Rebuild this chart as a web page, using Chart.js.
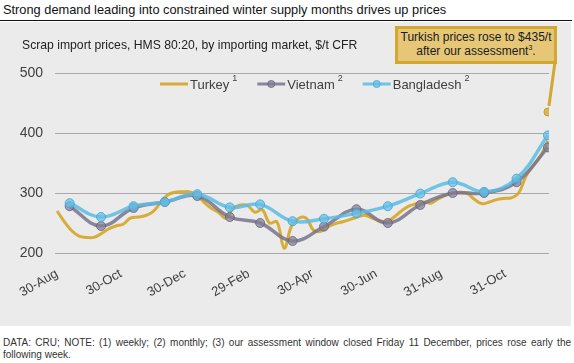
<!DOCTYPE html>
<html>
<head>
<meta charset="utf-8">
<script src="https://cdn.jsdelivr.net/npm/chart.js@4.4.0/dist/chart.umd.min.js"></script>
<style>
  body { margin: 0; width: 574px; height: 363px; background: #fff; font-family: "Liberation Sans", Arial, sans-serif; position: relative; overflow: hidden; }
  #title { position: absolute; left: 3px; top: 2px; font-size: 12.8px; color: #111; white-space: nowrap; }
  #rule { position: absolute; left: 0; top: 20px; width: 572px; height: 0; border-top: 1.5px solid #111; }
  #panel { position: absolute; left: 0; top: 22px; width: 571px; height: 304px; background: #ebebeb; }
  #subtitle { position: absolute; left: 22px; top: 16px; font-size: 12.2px; color: #222; white-space: nowrap; }
  #callout { position: absolute; left: 395px; top: 4px; width: 156px; height: 31px; background: #e5c777; border: 3px solid #d2a833; font-size: 12px; color: #1a1a1a; text-align: center; line-height: 14px; padding-top: 1px; }
  #callout sup { font-size: 7px; vertical-align: 5px; line-height: 0; }
  #note { position: absolute; left: 3px; top: 337px; width: 568px; font-size: 10px; line-height: 12px; color: #333; text-align: justify; }
</style>
</head>
<body>
<div id="title">Strong demand leading into constrained winter supply months drives up prices</div>
<div id="rule"></div>
<div id="panel">
  <canvas id="myChart"></canvas>
  <div id="subtitle">Scrap import prices, HMS 80:20, by importing market, $/t CFR</div>
  <div id="callout">Turkish prices rose to $435/t<br>after our assessment<sup>3</sup>.</div>
</div>
<div id="note">DATA: CRU; NOTE: (1) weekly; (2) monthly; (3) our assessment window closed Friday 11 December, prices rose early the following week.</div>
<script>
const startDate = "2019-08-30";

// weekly Turkey prices, Fridays from 30-Aug-2019 to 11-Dec-2020
const turkeyWeekly = [
  270, 252, 237, 228, 226, 226, 232, 240, 245, 248,
  258, 260, 262, 268, 282, 296, 301, 302, 302, 297,
  285, 275, 268, 258, 274, 280, 279, 268, 272, 250,
  252, 208, 245, 258, 258, 238, 236, 244, 249, 252,
  256, 260, 263, 258, 254, 252, 260, 270, 278, 282,
  285, 283, 290, 296, 300, 300, 299, 289, 282, 285,
  289, 291, 292, 300, 328, 346, 362, 387
];
const turkeyAfter = 435;

const monthlyDates = [
  "2019-09-11", "2019-10-11", "2019-11-11", "2019-12-11", "2020-01-11", "2020-02-11",
  "2020-03-11", "2020-04-11", "2020-05-11", "2020-06-11", "2020-07-11", "2020-08-11",
  "2020-09-11", "2020-10-11", "2020-11-11", "2020-12-11"
];
const vietnam = [278, 245, 275, 285, 295, 260, 250, 220, 244, 273, 250, 280, 300, 300, 318, 376];
const bangladesh = [283, 260, 278, 285, 298, 276, 281, 253, 257, 266, 278, 299, 318, 302, 324, 396];

const tickDates = ["2019-08-30", "2019-10-30", "2019-12-30", "2020-02-29", "2020-04-30", "2020-06-30", "2020-08-31", "2020-10-31"];
const tickLabels = ["30-Aug", "30-Oct", "30-Dec", "29-Feb", "30-Apr", "30-Jun", "31-Aug", "31-Oct"];

const legendNames = ["Turkey", "Vietnam", "Bangladesh"];
const legendSups = ["1", "2", "2"];

function dayOf(d) {
  return (Date.parse(d) - Date.parse(startDate)) / 86400000;
}

const turkeyPts = turkeyWeekly.map((v, i) => ({ x: i * 7, y: v }));
const lastDay = (turkeyWeekly.length - 1) * 7;
const vietnamPts = vietnam.map((v, i) => ({ x: dayOf(monthlyDates[i]), y: v }));
const bangladeshPts = bangladesh.map((v, i) => ({ x: dayOf(monthlyDates[i]), y: v }));
const tickDays = tickDates.map(dayOf);

const gold = "rgba(214,166,40,0.92)";
const purple = "rgba(120,115,140,0.85)";
const blue = "rgba(92,188,228,0.85)";

const legendPlugin = {
  id: "customLegend",
  afterDraw(chart) {
    const c = chart.ctx;
    let x = 160;
    const y = 62;
    c.save();
    [0, 1, 2].forEach((k) => {
      const ds = chart.data.datasets[k];
      c.strokeStyle = ds.borderColor;
      c.lineWidth = 3;
      c.beginPath();
      c.moveTo(x, y);
      c.lineTo(x + 28, y);
      c.stroke();
      if (ds.pointRadius > 0) {
        c.beginPath();
        c.arc(x + 14, y, 3.5, 0, Math.PI * 2);
        c.fillStyle = ds.pointBackgroundColor;
        c.fill();
        c.lineWidth = 1;
        c.strokeStyle = ds.pointBorderColor;
        c.stroke();
      }
      x += 30;
      c.fillStyle = "#404040";
      c.font = '13px "Liberation Sans", Arial';
      c.textBaseline = "middle";
      c.fillText(legendNames[k], x, y + 1);
      x += c.measureText(legendNames[k]).width + 3;
      c.font = '9px "Liberation Sans", Arial';
      c.fillText(legendSups[k], x, y - 5);
      x += c.measureText(legendSups[k]).width + 20;
    });
    c.restore();
  },
};

const calloutPlugin = {
  id: "calloutLine",
  afterDatasetsDraw(chart) {
    const pt = chart.getDatasetMeta(3).data[0];
    const c = chart.ctx;
    c.save();
    c.strokeStyle = "#d2a833";
    c.lineWidth = 3;
    c.beginPath();
    c.moveTo(555, 40);
    c.lineTo(pt.x + 1, pt.y - 6);
    c.stroke();
    c.restore();
  },
};

const ctx = document.querySelector("#myChart");

const data = {
  datasets: [
    {
      label: "Turkey",
      data: turkeyPts,
      borderColor: gold,
      borderWidth: 3,
      pointRadius: 0,
      tension: 0.4,
      order: 2,
    },
    {
      label: "Vietnam",
      data: vietnamPts,
      borderColor: purple,
      borderWidth: 3.5,
      pointRadius: 4.5,
      pointBackgroundColor: "rgba(130,126,150,0.7)",
      pointBorderColor: "rgba(100,96,120,0.8)",
      pointBorderWidth: 1,
      tension: 0.4,
      order: 1,
    },
    {
      label: "Bangladesh",
      data: bangladeshPts,
      borderColor: blue,
      borderWidth: 3.5,
      pointRadius: 4.5,
      pointBackgroundColor: "rgba(100,190,230,0.7)",
      pointBorderColor: "rgba(70,170,215,0.9)",
      pointBorderWidth: 1,
      tension: 0.4,
      order: 0,
    },
    {
      label: "Turkey after assessment",
      data: [{ x: lastDay, y: turkeyAfter }],
      showLine: false,
      pointRadius: 4,
      pointBackgroundColor: "rgba(214,166,40,0.75)",
      pointBorderColor: "rgba(200,150,30,0.9)",
      pointBorderWidth: 1,
      order: 3,
    },
  ],
};

const config = {
  type: "line",
  data,
  plugins: [legendPlugin, calloutPlugin],
  options: {
    responsive: true,
    maintainAspectRatio: false,
    animation: false,
    devicePixelRatio: 1,
    layout: { padding: { top: 51, right: 22, left: 0, bottom: 0 } },
    plugins: { legend: { display: false }, tooltip: { enabled: false } },
    scales: {
      x: {
        type: "linear",
        min: -2,
        max: 470,
        grid: { display: false },
        border: { display: false },
        afterBuildTicks: (scale) => {
          scale.ticks = tickDays.map((v) => ({ value: v }));
        },
        afterFit: (scale) => {
          scale.height = 73;
        },
        ticks: {
          autoSkip: false,
          minRotation: 30,
          maxRotation: 30,
          padding: 5,
          color: "#404040",
          font: { family: '"Liberation Sans", Arial', size: 13 },
          callback: (value, index) => tickLabels[index],
        },
      },
      y: {
        min: 200,
        max: 500,
        grid: { color: "#a8a8a8", lineWidth: 1, drawTicks: false },
        border: { display: false },
        afterFit: (scale) => {
          scale.width = 55;
        },
        ticks: {
          stepSize: 100,
          padding: 12,
          color: "#404040",
          font: { family: '"Liberation Sans", Arial', size: 14 },
        },
      },
    },
  },
};

ctx.parentElement.style.height = "304px";
let myChart = new Chart(ctx, config);
</script>
</body>
</html>
